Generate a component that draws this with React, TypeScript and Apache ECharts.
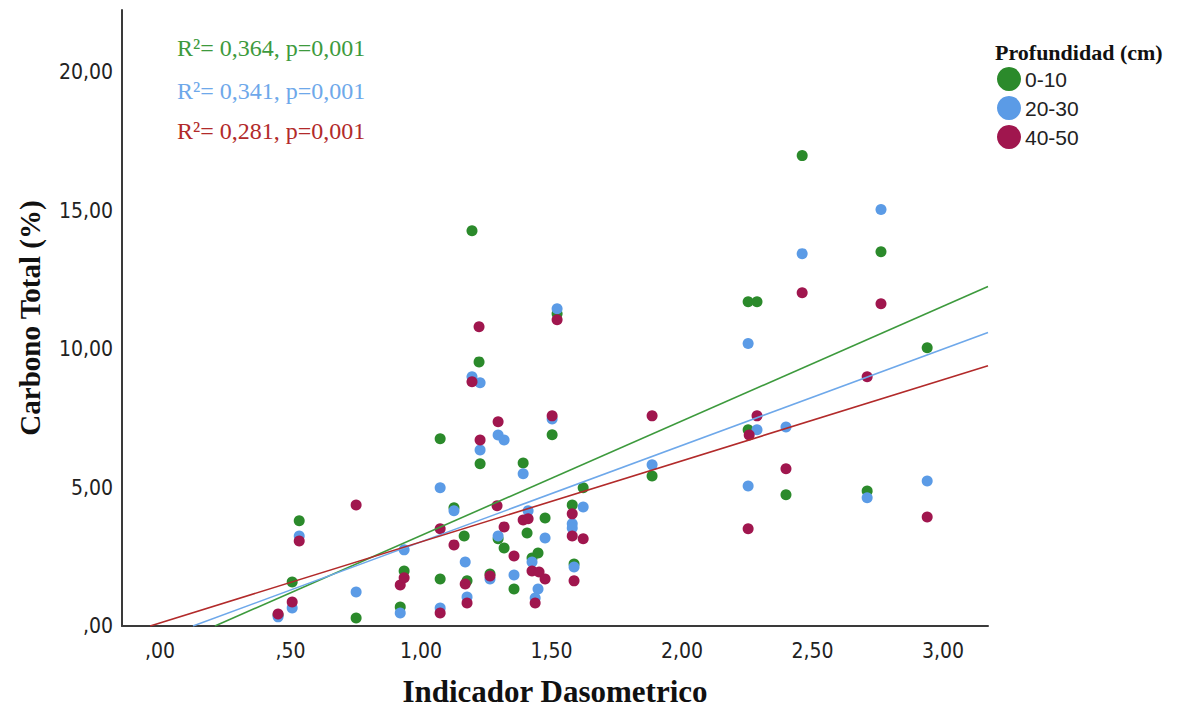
import React, { useEffect, useRef } from "react";
import * as echarts from "echarts";

// ---- data (Indicador Dasometrico, Carbono Total %) ----
const green010: [number, number][] = [
  [0.452, 0.40], [0.506, 1.59], [0.533, 3.80], [0.751, 0.29], [0.92, 0.69], [0.935, 1.99],
  [1.073, 6.76], [1.073, 1.70], [1.126, 4.27], [1.165, 3.25], [1.176, 1.63], [1.195, 14.28],
  [1.222, 9.54], [1.226, 5.86], [1.264, 1.88], [1.295, 3.15], [1.318, 2.82], [1.356, 1.34],
  [1.391, 5.89], [1.406, 3.36], [1.425, 2.46], [1.448, 2.64], [1.475, 3.90], [1.502, 6.91],
  [1.521, 11.28], [1.579, 4.37], [1.586, 2.24], [1.621, 4.99], [1.885, 5.42], [2.253, 11.71],
  [2.287, 11.71], [2.253, 7.09], [2.398, 4.74], [2.46, 16.99], [2.709, 4.88], [2.762, 13.52],
  [2.939, 10.05],
];
const blue2030: [number, number][] = [
  [0.452, 0.33], [0.506, 0.65], [0.533, 3.25], [0.751, 1.23], [0.92, 0.47], [0.935, 2.75],
  [1.073, 4.99], [1.073, 0.65], [1.126, 4.16], [1.169, 2.31], [1.176, 1.05], [1.195, 9.0],
  [1.226, 8.79], [1.226, 6.36], [1.264, 1.70], [1.295, 3.25], [1.295, 6.9], [1.318, 6.72],
  [1.356, 1.84], [1.391, 5.5], [1.41, 4.16], [1.425, 2.31], [1.448, 1.34], [1.437, 1.01],
  [1.475, 3.18], [1.502, 7.48], [1.521, 11.46], [1.579, 3.69], [1.579, 3.54], [1.586, 2.13],
  [1.621, 4.30], [1.885, 5.82], [2.253, 10.2], [2.253, 5.06], [2.287, 7.09], [2.398, 7.19],
  [2.46, 13.45], [2.709, 4.63], [2.762, 15.04], [2.939, 5.24],
];
const red4050: [number, number][] = [
  [0.452, 0.43], [0.506, 0.87], [0.533, 3.07], [0.751, 4.37], [0.92, 1.48], [0.935, 1.74],
  [1.073, 3.51], [1.073, 0.47], [1.126, 2.93], [1.169, 1.52], [1.176, 0.83], [1.195, 8.82],
  [1.222, 10.81], [1.226, 6.72], [1.264, 1.81], [1.291, 4.34], [1.295, 7.38], [1.318, 3.58],
  [1.356, 2.53], [1.391, 3.83], [1.41, 3.87], [1.425, 1.99], [1.452, 1.95], [1.475, 1.70],
  [1.437, 0.83], [1.502, 7.59], [1.521, 11.06], [1.579, 4.05], [1.579, 3.25], [1.586, 1.63],
  [1.621, 3.15], [1.885, 7.59], [2.257, 6.9], [2.253, 3.51], [2.287, 7.59], [2.398, 5.68],
  [2.46, 12.04], [2.709, 9.0], [2.762, 11.64], [2.939, 3.94],
];

// Fit lines (endpoints)
const fitGreen: [number, number][] = [[0.21, 0], [3.172, 12.26]];
const fitBlue: [number, number][] = [[0.126, 0], [3.172, 10.6]];
const fitRed: [number, number][] = [[-0.038, 0], [3.172, 9.4]];

const fitLabels = ["R²= 0,364, p=0,001", "R²= 0,341, p=0,001", "R²= 0,281, p=0,001"];
const seriesNames = ["0-10", "20-30", "40-50"];
const xTicks = [0, 0.5, 1, 1.5, 2, 2.5, 3];
const yTicks = [0, 5, 10, 15, 20];

const dotColors = ["#2b8a2b", "#5b9be6", "#a0164e"];
const lineColors = ["#3d9a3d", "#6ea8ea", "#b22a2a"];

const fmt = (v: number) => {
  const s = Number(v).toFixed(2).replace(".", ",");
  return s.startsWith("0,") ? s.slice(1) : s;
};

const SERIF = "'Liberation Serif', 'Times New Roman', serif";
const NARROW = "'Liberation Sans Narrow', 'Arial Narrow', 'DejaVu Sans Condensed', sans-serif";

export default function App() {
  const ref = useRef<HTMLDivElement>(null);
  useEffect(() => {
    if (!ref.current) return;
    const chart = echarts.init(ref.current, null, { renderer: "svg" });
    const scatter = (name: string, data: [number, number][], color: string) => ({
      name,
      type: "scatter",
      data,
      symbol: "circle",
      symbolSize: 11,
      itemStyle: { color, opacity: 1 },
      z: 2,
    });
    const fit = (data: [number, number][], color: string) => ({
      type: "line",
      data,
      symbol: "none",
      lineStyle: { color, width: 1.6 },
      silent: true,
      z: 3,
    });
    chart.setOption({
      animation: false,
      backgroundColor: "#ffffff",
      grid: { left: 122, right: 189, top: 10, bottom: 81, containLabel: false, outerBoundsMode: "none" },
      xAxis: {
        type: "value",
        min: -0.146,
        max: 3.172,
        splitLine: { show: false },
        axisTick: { show: false },
        axisLine: { show: true, onZero: false, lineStyle: { color: "#3a3a3a", width: 2 } },
        axisLabel: {
          customValues: xTicks,
          formatter: (v: number) => fmt(v),
          fontFamily: NARROW,
          fontSize: 21,
          color: "#222",
          margin: 14,
        },
        name: "Indicador Dasometrico",
        nameLocation: "middle",
        nameGap: 51,
        nameTextStyle: { fontFamily: SERIF, fontSize: 31, lineHeight: 28, fontWeight: "bold", color: "#111" },
      },
      yAxis: {
        type: "value",
        min: 0,
        max: 22.25,
        splitLine: { show: false },
        axisTick: { show: false },
        axisLine: { show: true, onZero: false, lineStyle: { color: "#3a3a3a", width: 2 } },
        axisLabel: {
          customValues: yTicks,
          formatter: (v: number) => fmt(v),
          fontFamily: NARROW,
          fontSize: 21,
          color: "#222",
          margin: 9,
        },
        name: "Carbono Total (%)",
        nameLocation: "middle",
        nameGap: 78,
        nameTextStyle: { fontFamily: SERIF, fontSize: 29, fontWeight: "bold", color: "#111" },
      },
      legend: {
        data: seriesNames,
        orient: "vertical",
        left: 992,
        top: 62,
        itemWidth: 24,
        itemHeight: 24,
        itemGap: 5,
        icon: "circle",
        textStyle: { fontFamily: "'Liberation Sans', Arial, sans-serif", fontSize: 21, color: "#222", padding: [0, 0, 0, -1] },
      },
      graphic: [
        {
          type: "text",
          left: 995,
          top: 41,
          style: { text: "Profundidad (cm)", font: `bold 22px ${SERIF}`, fill: "#111" },
        },
        ...fitLabels.map((t, i) => ({
          type: "text",
          left: 177,
          top: [36, 79, 119][i],
          style: { text: t, font: `24px ${SERIF}`, fill: lineColors[i] },
        })),
      ],
      series: [
        scatter(seriesNames[0], green010, dotColors[0]),
        scatter(seriesNames[1], blue2030, dotColors[1]),
        scatter(seriesNames[2], red4050, dotColors[2]),
        fit(fitGreen, lineColors[0]),
        fit(fitBlue, lineColors[1]),
        fit(fitRed, lineColors[2]),
      ],
    });
    return () => chart.dispose();
  }, []);
  return (
    <div
      ref={ref}
      style={{ position: "fixed", left: 0, top: 0, width: 1177, height: 707, background: "#fff" }}
    />
  );
}
